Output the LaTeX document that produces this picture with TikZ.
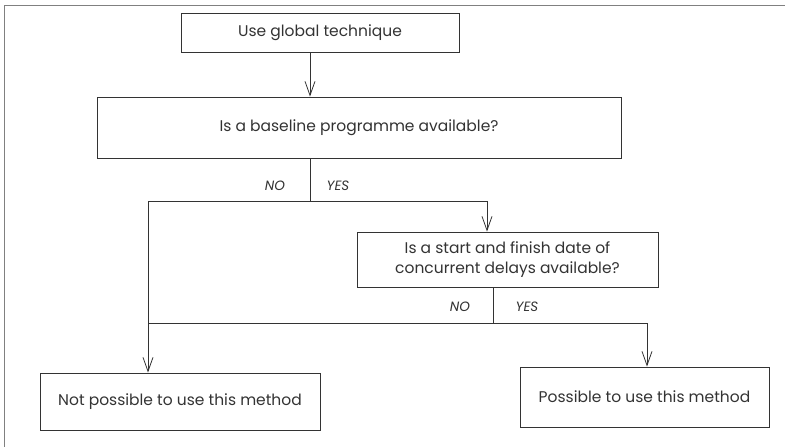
\documentclass[tikz,border=0pt]{standalone}
\usepackage{fontspec}
\setmainfont{Poppins}
\usetikzlibrary{arrows.meta}
\definecolor{ink}{HTML}{333333}
\definecolor{frame}{HTML}{808080}
\begin{document}
\begin{tikzpicture}[x=1pt,y=-1pt,
  box/.style={draw=ink, line width=0.9pt, text=ink, align=center, inner sep=0pt,
    font=\fontsize{15.5}{20}\selectfont},
  link/.style={draw=ink, line width=0.8pt},
  arr/.style={link, -{Straight Barb[length=14pt,width=10pt,line width=0.8pt]}},
  tag/.style={text=ink, font=\itshape\fontsize{13.5}{16}\selectfont}]
\useasboundingbox (0,0) rectangle (785,447);
% page frame: top and left rules only
\draw[frame, line width=1.4pt] (4.7,447) -- (4.7,5.7) -- (785,5.7);

% boxes
\node[box, minimum width=278pt, minimum height=39pt] (b1) at (320,32.5) {Use global technique};
\node[box, minimum width=524pt, minimum height=61pt] (b2) at (359,127.5) {Is a baseline programme available?};
\node[box, minimum width=301pt, minimum height=55pt] (b3) at (507.5,259.5) {Is a start and finish date of\\concurrent delays available?};
\node[box, minimum width=249pt, minimum height=60pt] (b4) at (644.5,397) {Possible to use this method};
\node[box, minimum width=280pt, minimum height=57pt] (b5) at (180,401.5) {Not possible to use this method};

% branch points
\coordinate (s1) at (310,201);
\coordinate (n1) at (148,201);
\coordinate (y1) at (487,201);
\coordinate (s2) at (493,323);
\coordinate (y2) at (647,323);

% connectors
\draw[arr] (b1.south -| s1) -- (b2.north -| s1);
\draw[link] (b2.south -| s1) -- (s1);
\draw[arr] (s1) -- (y1) -- (b3.north -| y1);
\draw[arr] (s1) -- (n1) -- (b5.north -| n1);
\draw[link] (b3.south -| s2) -- (s2);
\draw[link] (s2) -- (s2 -| n1);
\draw[arr] (s2) -- (y2) -- (b4.north -| y2);

% branch labels
\node[tag] (no1) at (275,186) {NO};
\node[tag] (yes1) at (338,186) {YES};
\node[tag] (no2) at (460,307) {NO};
\node[tag] (yes2) at (527,307) {YES};
\end{tikzpicture}
\end{document}
